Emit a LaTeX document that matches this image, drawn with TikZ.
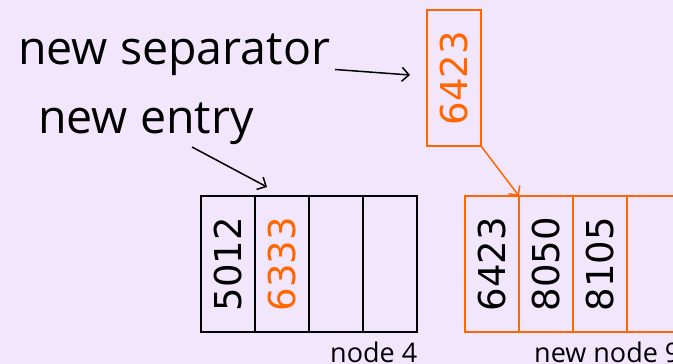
\documentclass[tikz,border=0pt]{standalone}
\usepackage{graphicx}
\usepackage{fontspec}
\setmainfont{Open Sans}
\newfontfamily\digitfont{DejaVu Sans}
\usetikzlibrary{arrows.meta}
\definecolor{bg}{RGB}{241,230,252}
\definecolor{orng}{RGB}{255,102,0}
\begin{document}
\begin{tikzpicture}[x=1pt,y=1pt,
  cell/.style={draw=#1, line width=2pt, minimum width=54pt, minimum height=136pt, inner sep=0pt, outer sep=0pt, font=\fontsize{37}{37}\digitfont},
  lbl/.style={font=\fontsize{46.5}{48}\selectfont, inner sep=0pt, anchor=base west},
  small/.style={font=\fontsize{27}{28}\selectfont, inner sep=0pt, anchor=base west},
  arr/.style={line width=1.5pt, -{Straight Barb[length=7pt,width=14pt]}}]
\useasboundingbox (0,0) rectangle (673,364);
\clip (0,0) rectangle (673,364);
\fill[bg] (0,0) rectangle (673,364);
% node 4
\node[cell=black] (a1) at (228,100) {\rotatebox{90}{5012}};
\node[cell=black, text=orng] (a2) at (282,100) {\rotatebox{90}{6333}};
\node[cell=black] (a3) at (336,100) {};
\node[cell=black] (a4) at (390,100) {};
% new node 9
\node[cell=orng] (b1) at (492,100) {\rotatebox{90}{6423}};
\node[cell=orng] (b2) at (546,100) {\rotatebox{90}{8050}};
\node[cell=orng] (b3) at (600,100) {\rotatebox{90}{8105}};
\node[cell=orng] (b4) at (654,100) {};
% separator
\node[cell=orng, text=orng] (sep) at (454,286) {\rotatebox{90}{6423}};
% labels
\node[lbl] (lsep) at (18,299) {new separator};
\node[lbl] (lent) at (38,230) {new entry};
\node[small] (l4) at (330,1.5) {node 4};
\node[small] (l9) at (534,1.5) {new node 9};
% arrows
\coordinate (s0) at (335,294.5);
\coordinate (s1) at (410,289);
\coordinate (e0) at (192,217);
\coordinate (e1) at (267,177);
\draw[arr] (s0) -- (s1);
\draw[arr] (e0) -- (e1);
\draw[arr, orng] (sep.south east) -- (b2.north west);
\end{tikzpicture}
\end{document}
